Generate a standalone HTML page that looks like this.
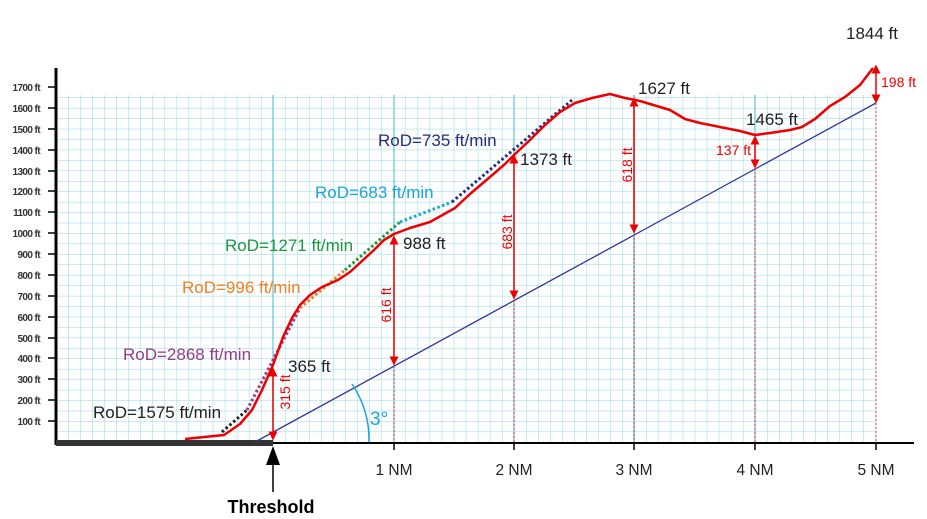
<!DOCTYPE html>
<html><head><style>body{margin:0;background:#fff}svg{display:block}text{font-family:"Liberation Sans",Arial,sans-serif}</style></head><body>
<svg width="927" height="519" viewBox="0 0 927 519" xmlns="http://www.w3.org/2000/svg">
<defs>
<pattern id="g" x="273" y="442" width="12.05" height="10.44" patternUnits="userSpaceOnUse">
<path d="M0 0V10.44M0 0H12.05" stroke="#8fd8e6" stroke-width="1" fill="none"/>
</pattern>
<marker id="a" markerWidth="6" markerHeight="6" refX="3" refY="3" orient="auto-start-reverse"><path d="M0 0L6 3L0 6z" fill="#e00"/></marker>
</defs>
<rect x="57" y="95" width="819" height="347" fill="url(#g)"/>
<g stroke="#70c8da" stroke-width="1.3">
<line x1="273" y1="95" x2="273" y2="442"/><line x1="394" y1="95" x2="394" y2="442"/><line x1="514" y1="95" x2="514" y2="442"/><line x1="634" y1="95" x2="634" y2="442"/><line x1="755" y1="95" x2="755" y2="442"/>
</g>
<line x1="56" y1="68" x2="56" y2="445" stroke="#000" stroke-width="3"/>
<line x1="56" y1="443" x2="914" y2="443" stroke="#000" stroke-width="2"/>
<rect x="56" y="440" width="217" height="6" fill="#333"/>
<g stroke="#000" stroke-width="1.5">
<line x1="48" y1="87" x2="56" y2="87"/><line x1="48" y1="108" x2="56" y2="108"/><line x1="48" y1="129" x2="56" y2="129"/><line x1="48" y1="150" x2="56" y2="150"/><line x1="48" y1="171" x2="56" y2="171"/><line x1="48" y1="191" x2="56" y2="191"/><line x1="48" y1="212" x2="56" y2="212"/><line x1="48" y1="233" x2="56" y2="233"/><line x1="48" y1="254" x2="56" y2="254"/><line x1="48" y1="275" x2="56" y2="275"/><line x1="48" y1="296" x2="56" y2="296"/><line x1="48" y1="317" x2="56" y2="317"/><line x1="48" y1="338" x2="56" y2="338"/><line x1="48" y1="358" x2="56" y2="358"/><line x1="48" y1="379" x2="56" y2="379"/><line x1="48" y1="400" x2="56" y2="400"/><line x1="48" y1="421" x2="56" y2="421"/>
<line x1="394" y1="443" x2="394" y2="450"/><line x1="514" y1="443" x2="514" y2="450"/><line x1="634" y1="443" x2="634" y2="450"/><line x1="755" y1="443" x2="755" y2="450"/><line x1="876" y1="443" x2="876" y2="450"/>
</g>
<g font-size="10" font-weight="bold" letter-spacing="-0.6" text-anchor="end" fill="#333">
<text x="40" y="91">1700 ft</text><text x="40" y="112">1600 ft</text><text x="40" y="133">1500 ft</text><text x="40" y="154">1400 ft</text><text x="40" y="175">1300 ft</text><text x="40" y="195">1200 ft</text><text x="40" y="216">1100 ft</text><text x="40" y="237">1000 ft</text><text x="40" y="258">900 ft</text><text x="40" y="279">800 ft</text><text x="40" y="300">700 ft</text><text x="40" y="321">600 ft</text><text x="40" y="342">500 ft</text><text x="40" y="362">400 ft</text><text x="40" y="383">300 ft</text><text x="40" y="404">200 ft</text><text x="40" y="425">100 ft</text>
</g>
<g font-size="15.5" text-anchor="middle" fill="#222">
<text x="394" y="475">1 NM</text><text x="514" y="475">2 NM</text><text x="634" y="475">3 NM</text><text x="755" y="475">4 NM</text><text x="876" y="475">5 NM</text>
</g>
<line x1="273" y1="492" x2="273" y2="462" stroke="#000" stroke-width="1.5"/>
<path d="M266 465L273 446L280 465z" fill="#000"/>
<text x="271" y="513" font-size="18" font-weight="bold" text-anchor="middle">Threshold</text>
<line x1="255" y1="442" x2="876" y2="103" stroke="#33339a" stroke-width="1.3"/>
<path d="M352 384 A 100 100 0 0 1 369 442" stroke="#1aa3dd" stroke-width="1.5" fill="none"/>
<text x="370" y="425" font-size="19" fill="#1aa3dd">3°</text>
<g stroke="#e33" stroke-width="1" stroke-dasharray="2,2">
<line x1="394" y1="366" x2="394" y2="442"/><line x1="514" y1="300" x2="514" y2="442"/><line x1="634" y1="234" x2="634" y2="442"/><line x1="755" y1="168" x2="755" y2="442"/><line x1="876" y1="103" x2="876" y2="442"/>
</g>
<g stroke-width="3" stroke-dasharray="2.5,2.5" fill="none">
<path d="M222 432L247 410" stroke="#222"/>
<path d="M247 410L300 308" stroke="#9b3a88"/>
<path d="M300 308L345 270" stroke="#f08020"/>
<path d="M345 270L400 222" stroke="#1a9a3a"/>
<path d="M400 222L452 202" stroke="#1aa3dd"/>
<path d="M452 202L572 100" stroke="#2a2a80"/>
</g>
<polyline fill="none" stroke="#e00" stroke-width="2.5" stroke-linejoin="round" points="185,439 224,435 240,424 252,410 262,390 273,365 283,337 292,318 300,305 310,295 322,287 338,280 350,272 362,261 374,250 384,240 394,234 410,228 430,222 455,208 470,194 490,177 505,164 514,155 530,140 545,125 560,112 575,103 592,98 610,94 625,98 640,101 660,107 670,110 685,119 700,123 720,127 740,131 755,135 770,133 790,130 802,127 815,119 830,106 845,97 860,85 873,68"/>
<g stroke="#e00" stroke-width="1.5" marker-start="url(#a)" marker-end="url(#a)">
<line x1="273" y1="372" x2="273" y2="436"/>
<line x1="394" y1="240" x2="394" y2="361"/>
<line x1="514" y1="159" x2="514" y2="295"/>
<line x1="634" y1="102" x2="634" y2="229"/>
<line x1="755" y1="140" x2="755" y2="164"/>
<line x1="876" y1="69" x2="876" y2="99"/>
</g>
<g fill="#e00" font-size="14">
<text transform="translate(290,392) rotate(-90)" text-anchor="middle">315 ft</text>
<text transform="translate(391,305) rotate(-90)" text-anchor="middle">616 ft</text>
<text transform="translate(512,232) rotate(-90)" text-anchor="middle">683 ft</text>
<text transform="translate(632,165) rotate(-90)" text-anchor="middle">618 ft</text>
<text x="716" y="155">137 ft</text>
<text x="881" y="87">198 ft</text>
</g>
<g fill="#222" font-size="17">
<text x="288" y="372">365 ft</text>
<text x="403" y="249">988 ft</text>
<text x="520" y="165">1373 ft</text>
<text x="638" y="94">1627 ft</text>
<text x="746" y="125">1465 ft</text>
<text x="846" y="39">1844 ft</text>
<text x="93" y="418">RoD=1575 ft/min</text>
</g>
<g font-size="17">
<text x="123" y="360" fill="#9b3a88">RoD=2868 ft/min</text>
<text x="182" y="293" fill="#f08020">RoD=996 ft/min</text>
<text x="225" y="251" fill="#1a9a3a">RoD=1271 ft/min</text>
<text x="315" y="198" fill="#1aa3dd">RoD=683 ft/min</text>
<text x="378" y="146" fill="#2a2a80">RoD=735 ft/min</text>
</g>
</svg>
</body></html>
